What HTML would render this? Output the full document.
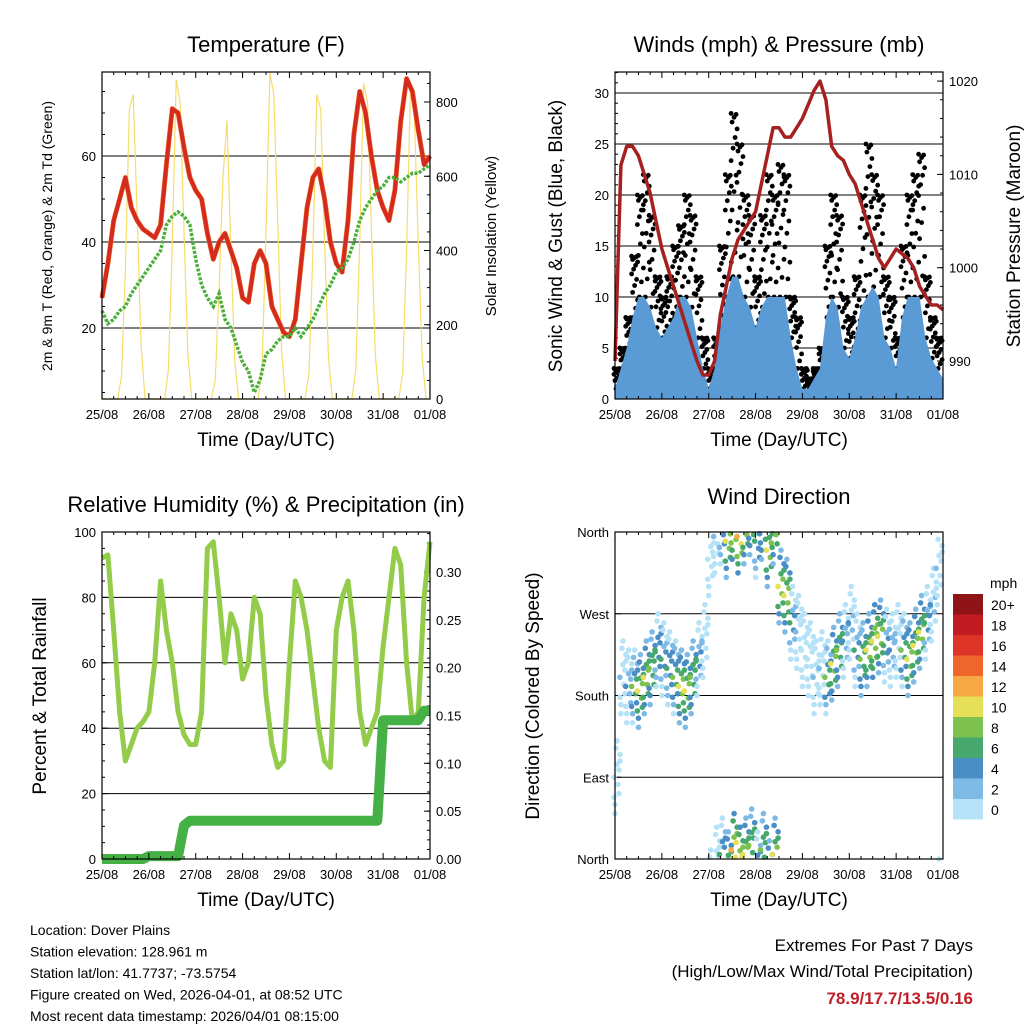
<!DOCTYPE html>
<html><head><meta charset="utf-8"><style>
body{margin:0;background:#fff}
svg{display:block;font-family:"Liberation Sans",sans-serif}
</style></head><body>
<svg id="c" width="1024" height="1024" viewBox="0 0 1024 1024"></svg>
<script>
// ---------- DATA (3-hourly from 25/08 00 UTC to 01/09 00 UTC) ----------
const dayLabels=["25/08","26/08","27/08","28/08","29/08","30/08","31/08","01/08"];
const tempRed=[27,35,45,50,55,48,45,43, 42,41,44,58,71,70,62,55, 52,50,42,36,40,42,38,34, 27,26,35,38,35,25,22,19, 18,22,35,48,55,57,50,40, 35,33,45,65,75,70,60,52, 48,45,52,68,78,75,66,58, 60];
const dewGreen=[24,21,22,24,25,28,30,32, 34,36,38,44,46,47,46,44, 36,30,27,25,28,22,20,16, 12,10,5,8,14,15,17,18, 18,20,18,20,22,25,28,30, 33,34,36,40,45,48,50,52, 53,55,55,54,55,56,56,57, 58];
const solarDays=[[0,0,0,0,0,60,350,780,820,500,150,0],[0,0,0,0,0,80,420,860,800,450,120,0],[0,0,0,0,0,50,300,600,750,400,100,0],[0,0,0,0,0,90,450,880,820,480,130,0],[0,0,0,0,0,70,400,820,780,420,110,0],[0,0,0,0,0,80,420,850,800,460,120,0],[0,0,0,0,0,70,400,840,760,420,110,0]];
const gust=[3,5,8,14,20,22,18,12, 10,12,15,17,20,18,12,6, 3,6,15,22,28,25,20,18, 12,18,22,20,23,22,10,8, 3,2,3,5,15,20,18,10, 8,12,20,25,22,20,12,10, 6,15,20,22,24,12,8,6, 4];
const sustained=[1,3,5,8,10,10,9,7, 6,7,8,10,10,9,6,3, 1,3,7,10,12,12,10,9, 7,9,10,10,10,10,6,3, 1,1,2,3,8,10,9,5, 4,6,9,10,11,10,6,5, 3,8,10,10,10,6,4,3, 2];
const pressure=[990,1011,1013,1013,1012,1010,1008,1005, 1002,1000,998,996,994,992,990,988.5, 988.5,990,995,998,1001,1003,1004,1005, 1006,1009,1012,1015,1015,1014,1014,1015, 1016,1017.5,1019,1020,1018,1013,1012,1011.5, 1010,1009,1007,1005,1003,1001,1000,1001, 1002,1001.5,1001,1000,998,997,996,996, 995.5];
const rh=[92,93,70,45,30,35,40,42, 45,60,85,70,60,45,38,35, 35,45,95,97,80,60,75,70, 55,60,80,75,50,35,28,30, 60,85,80,70,55,40,30,28, 70,80,85,70,45,35,40,45, 65,80,95,90,60,42,45,80, 97];
const precip=[0,0,0,0,0,0,0,0, 0.003,0.003,0.003,0.003,0.003,0.003,0.035,0.04, 0.04,0.04,0.04,0.04,0.04,0.04,0.04,0.04, 0.04,0.04,0.04,0.04,0.04,0.04,0.04,0.04, 0.04,0.04,0.04,0.04,0.04,0.04,0.04,0.04, 0.04,0.04,0.04,0.04,0.04,0.04,0.04,0.04, 0.145,0.145,0.145,0.145,0.145,0.145,0.145,0.155, 0.155];
const windDir=[90,200,190,190,185,200,210,230, 220,210,200,190,185,200,220,240, 330,355,5,350,10,355,5,15, 350,10,340,5,300,290,260,250, 230,220,200,210,200,215,230,240, 260,230,220,230,240,245,235,230, 240,230,220,235,250,260,280,320, 330];
const cbarLabels=["20+","18","16","14","12","10","8","6","4","2","0"];
const cbarColors=["#8e1418","#c01c22","#de3327","#f0652b","#f6a844","#e5e058","#7dc24e","#47a86e","#4a8ec6","#7ebae6","#b6e2f7"];

const NS="http://www.w3.org/2000/svg", svg=document.getElementById('c');
function el(t,a,p){const e=document.createElementNS(NS,t);for(const k in a)e.setAttribute(k,a[k]);(p||svg).appendChild(e);return e;}
function txt(x,y,s,sz,anchor,p,rot){const e=el('text',{x:x,y:y,'font-size':sz,'text-anchor':anchor||'middle',fill:'#000'},p);if(rot)e.setAttribute('transform','rotate(-90 '+x+' '+y+')');e.textContent=s;return e;}

function panel(name,x0,y0,x1,y1){
  const g=el('g',{});
  
  
  return {g,x0,y0,x1,y1,X:i=>x0+(x1-x0)*i/56};
}
function frame(P){el('rect',{x:P.x0,y:P.y0,width:P.x1-P.x0,height:P.y1-P.y0,fill:'none',stroke:'#000','stroke-width':1.2},P.g);}
function xaxis(P,title){
  const ax=el('g',{},P.g);
  
  
  for(let d=0;d<=7;d++){const x=P.x0+(P.x1-P.x0)*d/7;
    el('line',{x1:x,y1:P.y1,x2:x,y2:P.y1-6,stroke:'#000'},ax);el('line',{x1:x,y1:P.y0,x2:x,y2:P.y0+6,stroke:'#000'},ax);
    for(let h=1;h<4&&d<7;h++){const xm=x+(P.x1-P.x0)/7*h/4;el('line',{x1:xm,y1:P.y1,x2:xm,y2:P.y1-3,stroke:'#000'},ax);el('line',{x1:xm,y1:P.y0,x2:xm,y2:P.y0+3,stroke:'#000'},ax);}
    txt(x,P.y1+20,dayLabels[d],13,'middle',ax);}
  const t=txt((P.x0+P.x1)/2,P.y1+47,title,19,'middle',ax);
  
}
function yaxis(P,side,vals,labels,ymap,minor,name,grid){
  const ax=el('g',{},P.g);
  
  
  const xe=side==='l'?P.x0:P.x1, dir=side==='l'?1:-1;
  vals.forEach((v,i)=>{const y=ymap(v);
    if(grid)el('line',{x1:P.x0,y1:y,x2:P.x1,y2:y,stroke:'#000','stroke-width':1},ax);
    el('line',{x1:xe,y1:y,x2:xe+dir*6,y2:y,stroke:'#000'},ax);
    txt(side==='l'?xe-6:xe+6,y+5,labels[i],13,side==='l'?'end':'start',ax);});
  minor.forEach(v=>{const y=ymap(v);if(y>=P.y0&&y<=P.y1)el('line',{x1:xe,y1:y,x2:xe+dir*3,y2:y,stroke:'#000'},ax);});
}
function poly(P,vals,ymap,attrs,name){const pts=vals.map((v,i)=>P.X(i).toFixed(1)+','+ymap(v).toFixed(1)).join(' ');const e=el('polyline',Object.assign({points:pts,fill:'none'},attrs),P.g);return e;}
function range(a,b,s){const r=[];for(let v=a;v<=b+1e-9;v+=s)r.push(+v.toFixed(4));return r;}

// ---------- PANEL 1: Temperature ----------
{const P=panel('temperature-panel',102,72,430,399);
 const yT=v=>328-(v-20)*4.3, yS=v=>399-v*297/800;
 txt(266,52,'Temperature (F)',22,'middle',P.g);
 yaxis(P,'l',[20,40,60],['20','40','60'],yT,range(5,75,5),'temperature-y-axis',true);
 yaxis(P,'r',[0,200,400,600,800],['0','200','400','600','800'],yS,range(0,850,50),'solar-y-axis',false);
 const sg=el('g',{},P.g);
 let pts=[];solarDays.forEach((d,di)=>d.forEach((v,h)=>{const x=P.x0+(P.x1-P.x0)*(di+h/12)/7;pts.push(x.toFixed(1)+','+yS(v).toFixed(1));}));
 el('polyline',{points:pts.join(' '),fill:'none',stroke:'#f7dc6a','stroke-width':1.2},sg);
 poly(P,tempRed,yT,{stroke:'#f08030','stroke-width':5,'stroke-linejoin':'round'},'temp-9m-line');
 poly(P,tempRed,yT,{stroke:'#d42a20','stroke-width':4,'stroke-linejoin':'round'},'temp-2m-line');
 poly(P,dewGreen,yT,{stroke:'#4caf3c','stroke-width':3.5,'stroke-dasharray':'3 1.5'},'dewpoint-line');
 frame(P);xaxis(P,'Time (Day/UTC)');
 txt(52,236,'2m & 9m T (Red, Orange) & 2m Td (Green)',14,'middle',P.g,true);
 txt(496,236,'Solar Insolation (Yellow)',15,'middle',P.g,true);
}
// ---------- PANEL 2: Winds ----------
{const P=panel('winds-panel',615,72,943,399);
 const yW=v=>399-v*10.2, yP=v=>361-(v-990)*9.33;
 txt(779,52,'Winds (mph) & Pressure (mb)',22,'middle',P.g);
 yaxis(P,'l',[0,5,10,15,20,25,30],['0','5','10','15','20','25','30'],yW,range(0,32,1),'wind-y-axis',true);
 yaxis(P,'r',[990,1000,1010,1020],['990','1000','1010','1020'],yP,range(986,1023,2),'pressure-y-axis',false);
 const bg=el('g',{},P.g);
 gust.forEach((g,i)=>{if(i===56)return;for(let k=0;k<14;k++){const f=k/13;const v=sustained[i]+(g-sustained[i])*(1-f*f);const x=P.X(i)+((k*5)%7)-1;
   el('circle',{cx:x.toFixed(1),cy:yW(v).toFixed(1),r:2.4,fill:'#000'},bg);}});
 const wg=el('g',{},P.g);
 let pts=[P.x0+','+P.y1];sustained.forEach((v,i)=>pts.push(P.X(i).toFixed(1)+','+yW(v).toFixed(1)));pts.push(P.x1+','+P.y1);
 el('polygon',{points:pts.join(' '),fill:'#5a9bd5'},wg);
 poly(P,pressure,yP,{stroke:'#a52020','stroke-width':3.5,'stroke-linejoin':'round'},'pressure-line');
 frame(P);xaxis(P,'Time (Day/UTC)');
 txt(562,236,'Sonic Wind & Gust (Blue, Black)',19,'middle',P.g,true);
 txt(1020,236,'Station Pressure (Maroon)',19,'middle',P.g,true);
}
// ---------- PANEL 3: RH & Precip ----------
{const P=panel('humidity-panel',102,532,430,859);
 const yR=v=>859-v*3.27, yPr=v=>859-v*957;
 txt(266,512,'Relative Humidity (%) & Precipitation (in)',22,'middle',P.g);
 yaxis(P,'l',[0,20,40,60,80,100],['0','20','40','60','80','100'],yR,range(0,100,5),'humidity-y-axis',true);
 yaxis(P,'r',[0,0.05,0.1,0.15,0.2,0.25,0.3],['0.00','0.05','0.10','0.15','0.20','0.25','0.30'],yPr,range(0,0.34,0.01),'precip-y-axis',false);
 poly(P,rh,yR,{stroke:'#93cc4a','stroke-width':5,'stroke-linejoin':'round'},'humidity-line');
 poly(P,precip,yPr,{stroke:'#45b045','stroke-width':10,'stroke-linejoin':'round'},'precip-line');
 frame(P);xaxis(P,'Time (Day/UTC)');
 txt(46,696,'Percent & Total Rainfall',19,'middle',P.g,true);
}
// ---------- PANEL 4: Wind direction ----------
{const P=panel('wind-direction-panel',615,532,943,859);
 const yD=v=>859-v*327/360;
 txt(779,504,'Wind Direction',22,'middle',P.g);
 yaxis(P,'l',[0,90,180,270,360],['North','East','South','West','North'],yD,[],'direction-y-axis',true);
 const dg=el('g',{},P.g);
 const offs=[0,-18,14,-30,25,-8,32,-22,8,40,-40,18];
 windDir.forEach((d,i)=>{if(i===56)return;offs.forEach((o,k)=>{let v=d+o;v=((v%360)+360)%360;const sp=Math.max(0,sustained[i]-Math.abs(o)/6);
   const ci=10-Math.min(10,Math.floor(sp/2));const x=P.X(i)+((k*5)%7)-1;
   el('circle',{cx:x.toFixed(1),cy:yD(v).toFixed(1),r:2.8,fill:cbarColors[ci]},dg);});});
 frame(P);xaxis(P,'Time (Day/UTC)');
 txt(539,696,'Direction (Colored By Speed)',19,'middle',P.g,true);
 const cb=el('g',{});
 txt(990,588,'mph',14,'start',cb);
 cbarColors.forEach((c,i)=>{el('rect',{x:953,y:594+i*20.5,width:30,height:20.5,fill:c},cb);txt(991,610+i*20.5,cbarLabels[i],14,'start',cb);});
}
// ---------- footer ----------
const ft=el('g',{});
["Location: Dover Plains","Station elevation: 128.961 m","Station lat/lon: 41.7737; -73.5754","Figure created on Wed, 2026-04-01, at 08:52 UTC","Most recent data timestamp: 2026/04/01 08:15:00"].forEach((s,i)=>txt(30,935+i*21.5,s,14,'start',ft));
const ex=el('g',{});
txt(973,951,'Extremes For Past 7 Days',17,'end',ex);
txt(973,977,'(High/Low/Max Wind/Total Precipitation)',17,'end',ex);
const ev=txt(973,1004,'78.9/17.7/13.5/0.16',17,'end',ex);ev.setAttribute('fill','#c0202a');ev.setAttribute('font-weight','bold');
</script>
</body></html>
